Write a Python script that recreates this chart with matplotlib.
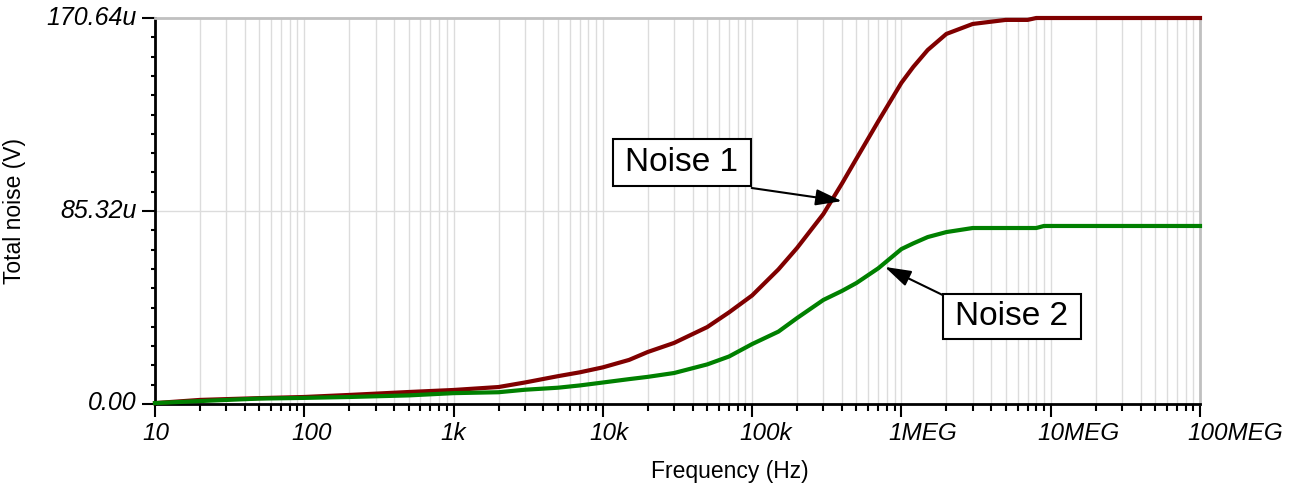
import numpy as np
import matplotlib
matplotlib.use('Agg')
import matplotlib.pyplot as plt
import matplotlib.transforms as mtransforms
from matplotlib.patches import Rectangle
from matplotlib.ticker import LogLocator, MultipleLocator, NullFormatter

plt.rcParams['font.family'] = ['Liberation Sans', 'DejaVu Sans']

# data (noise in uV)
freq = [10, 20, 50, 100, 200, 500, 1e3, 2e3, 3e3, 5e3, 7e3, 1e4, 1.5e4, 2e4, 3e4, 5e4, 7e4,
        1e5, 1.5e5, 2e5, 3e5, 4e5, 5e5, 7e5, 1e6, 1.2e6, 1.5e6, 2e6, 3e6, 5e6, 7e6, 8e6,
        9e6, 1e7, 1e8]
noise1 = [0.4, 1.8, 2.6, 3.1, 4.0, 5.3, 6.2, 7.5, 9.5, 12.3, 14.0, 16.2, 19.5, 23.0, 27.0,
          34.0, 40.5, 48.0, 59.5, 69.0, 84.0, 97.5, 108.5, 125.0, 142.0, 149.0, 156.5,
          163.6, 168.0, 169.8, 169.8, 170.64, 170.64, 170.64, 170.64]
noise2 = [0.4, 1.3, 2.4, 2.7, 3.1, 3.8, 4.8, 5.2, 6.3, 7.2, 8.2, 9.5, 11.0, 12.0, 13.7,
          17.5, 21.0, 26.5, 32.0, 38.0, 46.0, 50.0, 53.5, 60.0, 68.5, 71.0, 73.8, 76.0,
          77.8, 77.8, 77.8, 77.8, 78.7, 78.7, 78.7]

x_ticks = [10, 100, 1e3, 1e4, 1e5, 1e6, 1e7, 1e8]
x_labels = ['10', '100', '1k', '10k', '100k', '1MEG', '10MEG', '100MEG']
y_ticks = [0, 85.32, 170.64]
y_labels = ['0.00', '85.32u', '170.64u']

fig = plt.figure(figsize=(12.91, 4.92), dpi=100)
ax = fig.add_axes([155 / 1291, 88 / 492, 1045 / 1291, 386 / 492])

ax.plot(freq, noise1, color='#800000', lw=3, clip_on=False, zorder=3)
ax.plot(freq, noise2, color='#008000', lw=3, clip_on=False, zorder=3)

ax.set_xscale('log')
ax.set_xlim(10, 1e8)
ax.set_ylim(0, 170.64)

# ticks
ax.set_xticks(x_ticks, x_labels)
ax.xaxis.set_minor_locator(LogLocator(base=10, subs=np.arange(2, 10), numticks=100))
ax.xaxis.set_minor_formatter(NullFormatter())
ax.set_yticks(y_ticks, y_labels)
ax.yaxis.set_minor_locator(MultipleLocator(8.532))

ax.tick_params(axis='x', which='major', direction='out', length=9.5, width=1.5, pad=3.5, labelsize=17.5)
ax.tick_params(axis='x', which='minor', direction='out', length=5, width=1.5)
ax.tick_params(axis='y', which='major', direction='out', length=9.5, width=1.5, pad=3.5, labelsize=18)
ax.tick_params(axis='y', which='minor', direction='out', length=3, width=1.5)

# x labels sit just left of their tick, not centred
xoff = mtransforms.ScaledTranslation(-13 / 100, 0, fig.dpi_scale_trans)
for lbl in ax.get_xticklabels():
    lbl.set_fontstyle('italic')
    lbl.set_ha('left')
    lbl.set_transform(lbl.get_transform() + xoff)
yoff = mtransforms.ScaledTranslation(0, 3 / 100, fig.dpi_scale_trans)
for lbl in ax.get_yticklabels():
    lbl.set_fontstyle('italic')
    lbl.set_transform(lbl.get_transform() + yoff)

# grid
ax.grid(True, which='both', axis='x', color='#dcdcdc', lw=1)
ax.grid(True, which='major', axis='y', color='#dcdcdc', lw=1)
ax.set_axisbelow(True)

# spines
ax.spines['left'].set_linewidth(2)
ax.spines['bottom'].set_linewidth(2)
ax.spines['top'].set_color('#c0c0c0')
ax.spines['right'].set_color('#c0c0c0')
ax.spines['top'].set_linewidth(2)
ax.spines['right'].set_linewidth(2)

ax.set_xlabel('Frequency (Hz)', fontsize=16.5)
ax.xaxis.set_label_coords(0.55, -0.145)
ax.set_ylabel('Total noise (V)', fontsize=16.5)
ax.yaxis.set_label_coords(-0.123, 0.5)

# annotations
arrow = dict(arrowstyle='-|>,head_length=0.8,head_width=0.25', color='black',
             lw=1.5, mutation_scale=20, shrinkA=0, shrinkB=0)
ax.annotate('', xy=(3.99e5, 89.7), xytext=(0.571, 0.5596), textcoords='axes fraction',
            arrowprops=arrow, zorder=5)
ax.annotate('', xy=(7.74e5, 60.6), xytext=(0.754, 0.282), textcoords='axes fraction',
            arrowprops=arrow, zorder=5)

ax.add_patch(Rectangle((0.4383, 0.5648), 0.1321, 0.1218, transform=ax.transAxes,
                       fc='white', ec='black', lw=1.5, zorder=6))
ax.text(0.504, 0.6256, 'Noise 1', transform=ax.transAxes, ha='center', va='center',
        fontsize=24, zorder=7)
ax.add_patch(Rectangle((0.7541, 0.1684), 0.1321, 0.1166, transform=ax.transAxes,
                       fc='white', ec='black', lw=1.5, zorder=6))
ax.text(0.820, 0.2267, 'Noise 2', transform=ax.transAxes, ha='center', va='center',
        fontsize=24, zorder=7)

fig.savefig('out.png', dpi=100)
